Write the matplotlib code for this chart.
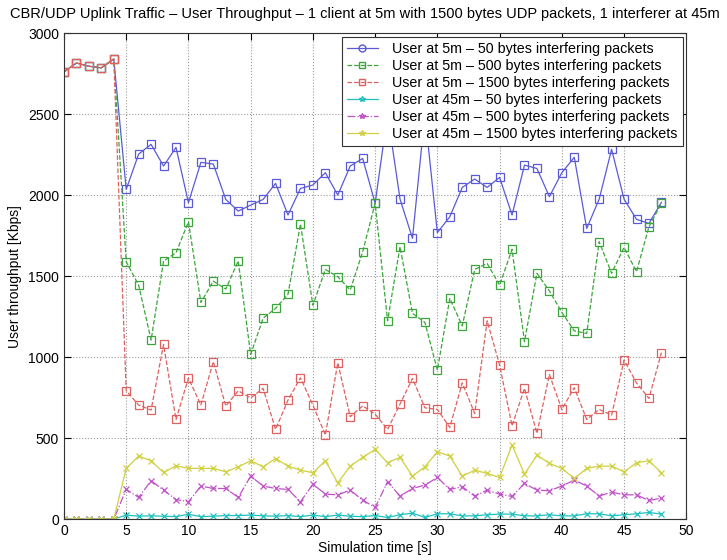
import matplotlib
matplotlib.use("Agg")
import matplotlib.pyplot as plt
from matplotlib.lines import Line2D

# Simulation time axis (seconds)
time_s = list(range(49))

# User at 5 m, throughput in Kbps
user5_50b = [2760, 2815, 2795, 2785, 2840, 2035, 2253, 2313, 2179, 2294,
             1953, 2202, 2191, 1973, 1901, 1938, 1973, 2072, 1877, 2041,
             2062, 2138, 2000, 2179, 2226, 1949, 2500, 1975, 1733, 2500,
             1768, 1866, 2047, 2099, 2047, 2109, 1877, 2185, 2164, 1990,
             2138, 2233, 1794, 1975, 2282, 1975, 1850, 1825, 1955]
user5_500b = [2760, 2815, 2795, 2785, 2840, 1588, 1444, 1105, 1593, 1644,
              1835, 1337, 1469, 1420, 1593, 1017, 1240, 1300, 1388, 1821,
              1320, 1541, 1496, 1414, 1650, 1949, 1224, 1681, 1270, 1214,
              920, 1362, 1193, 1541, 1578, 1444, 1665, 1095, 1517, 1409,
              1276, 1162, 1146, 1712, 1517, 1677, 1527, 1804, 1949]
user5_1500b = [2760, 2815, 2795, 2785, 2840, 792, 704, 673, 1078, 615,
               870, 704, 972, 698, 792, 748, 807, 554, 735, 872,
               704, 519, 965, 632, 699, 648, 554, 710, 868, 687,
               677, 566, 841, 652, 1224, 951, 576, 807, 529, 893,
               677, 811, 615, 677, 642, 981, 841, 745, 1027]

# User at 45 m, throughput in Kbps
user45_50b = [0, 0, 0, 0, 0, 25, 18, 20, 18, 15,
              30, 15, 18, 22, 22, 25, 20, 18, 22, 15,
              25, 15, 25, 18, 15, 22, 10, 27, 37, 10,
              33, 33, 20, 20, 27, 31, 31, 20, 20, 27,
              20, 20, 33, 33, 20, 27, 33, 41, 31]
user45_500b = [0, 0, 0, 0, 0, 183, 134, 237, 179, 121,
               107, 204, 189, 189, 134, 265, 204, 189, 183, 107,
               216, 154, 150, 179, 117, 72, 230, 142, 189, 210,
               257, 183, 200, 142, 179, 154, 140, 220, 179, 175,
               204, 241, 204, 142, 167, 150, 150, 115, 130]
user45_1500b = [0, 0, 0, 0, 0, 313, 389, 360, 288, 329,
                313, 313, 313, 292, 323, 360, 323, 374, 327, 302,
                286, 360, 224, 327, 381, 430, 348, 381, 265, 323,
                416, 389, 265, 302, 282, 257, 457, 278, 395, 344,
                313, 251, 313, 327, 327, 292, 348, 360, 286]

labels = [
    "User at 5m – 50 bytes interfering packets",
    "User at 5m – 500 bytes interfering packets",
    "User at 5m – 1500 bytes interfering packets",
    "User at 45m – 50 bytes interfering packets",
    "User at 45m – 500 bytes interfering packets",
    "User at 45m – 1500 bytes interfering packets",
]
x_ticks = list(range(0, 51, 5))
y_ticks = list(range(0, 3001, 500))

series = [user5_50b, user5_500b, user5_1500b,
          user45_50b, user45_500b, user45_1500b]
colors = ["#5a5ad8", "#3aa63a", "#e06060", "#20c0c0", "#c050c8", "#d0d040"]
styles = ["-", "--", "--", "-", "-.", "-"]
markers = ["s", "s", "s", "x", "x", "x"]
legend_markers = ["o", "s", "s", "*", "*", "*"]
msizes = [6, 6, 6, 4, 4, 4]

plt.rcParams["font.family"] = ["Liberation Sans", "DejaVu Sans"]

fig = plt.figure(figsize=(7.27, 5.6), dpi=100)
ax = fig.add_axes([0.088, 0.073, 0.856, 0.868])

for vals, c, ls, mk, ms in zip(series, colors, styles, markers, msizes):
    ax.plot(time_s, vals, color=c, linestyle=ls, linewidth=0.9,
            marker=mk, markersize=ms, markerfacecolor="none",
            markeredgecolor=c, markeredgewidth=0.9)

ax.set_xlim(0, 50)
ax.set_ylim(0, 3000)
ax.set_xticks(x_ticks)
ax.set_yticks(y_ticks)
ax.tick_params(direction="in", length=5, labelsize=10, top=True, right=True)
ax.grid(True, color="#9a9a9a", linestyle=":", linewidth=0.8)
for sp in ax.spines.values():
    sp.set_linewidth(0.8)
    sp.set_color("#333333")

ax.set_xlabel("Simulation time [s]", fontsize=10, labelpad=2)
ax.set_ylabel("User throughput [Kbps]", fontsize=10, labelpad=4)
fig.text(0.502, 0.975, "CBR/UDP Uplink Traffic – User Throughput – 1 client at 5m "
         "with 1500 bytes UDP packets, 1 interferer at 45m",
         ha="center", va="center", fontsize=10.5)

handles = [Line2D([], [], color=c, linestyle=ls, linewidth=0.9, marker=lm,
                  markersize=5 if lm != "*" else 4, markerfacecolor="none",
                  markeredgecolor=c)
           for c, ls, lm in zip(colors, styles, legend_markers)]
leg = ax.legend(handles, labels, loc="upper right", fontsize=10.3,
                frameon=True, fancybox=False, framealpha=1.0,
                edgecolor="#333333", borderaxespad=0.25,
                handlelength=2.2, handletextpad=1.0, labelspacing=0.22,
                borderpad=0.35)
leg.get_frame().set_linewidth(0.8)

fig.savefig("out.png", dpi=100)
